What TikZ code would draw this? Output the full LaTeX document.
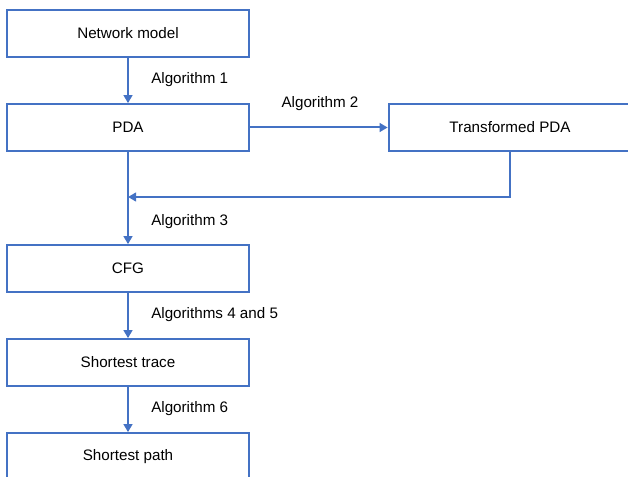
\documentclass[tikz,border=0pt]{standalone}
\usepackage{fontspec}
\setmainfont{Liberation Sans}
\usetikzlibrary{arrows.meta, positioning}

\definecolor{flowblue}{HTML}{4472C4}

\tikzset{
    stepbox/.style={draw=flowblue, line width=1.5pt, minimum width=182pt, minimum height=35pt, inner sep=0pt, font=\fontsize{11.4}{13}\selectfont},
    flow/.style={draw=flowblue, line width=1.5pt, -{Triangle[length=6pt, width=6.5pt]}},
    algo/.style={inner sep=0pt, font=\fontsize{11.4}{13}\selectfont}
}

\begin{document}
\begin{tikzpicture}[x=0.75pt, y=-0.75pt]

        % ==========================================
        % Area del disegno
        % ==========================================
        \useasboundingbox (0,0) rectangle (628,477);

        % ==========================================
        % Blocchi
        % ==========================================
        \node[stepbox] (net)   at (128, 33.5)  {Network model};
        \node[stepbox] (pda)   at (128, 127.5) {PDA};
        \node[stepbox] (tpda)  at (510, 127.5) {Transformed PDA};
        \node[stepbox] (cfg)   at (128, 268.5) {CFG};
        \node[stepbox] (trace) at (128, 362.5) {Shortest trace};
        \node[stepbox] (path)  at (128, 456.5) {Shortest path};

        % Punto di ritorno dal PDA trasformato
        \coordinate (join) at (128, 197);

        % ==========================================
        % Frecce
        % ==========================================
        \draw[flow] (net) -- (pda);
        \draw[flow] (pda) -- (tpda);
        \draw[flow] (pda) -- (cfg);
        \draw[flow] (tpda.south) |- (join);
        \draw[flow] (cfg) -- (trace);
        \draw[flow] (trace) -- (path);

        % ==========================================
        % Etichette
        % ==========================================
        \node[algo, anchor=west] (alg1)  at (151, 80)  {Algorithm 1};
        \node[algo]              (alg2)  at (320, 104) {Algorithm 2};
        \node[algo, anchor=west] (alg3)  at (151, 222) {Algorithm 3};
        \node[algo, anchor=west] (alg45) at (151, 315) {Algorithms 4 and 5};
        \node[algo, anchor=west] (alg6)  at (151, 409) {Algorithm 6};

    \end{tikzpicture}
\end{document}
